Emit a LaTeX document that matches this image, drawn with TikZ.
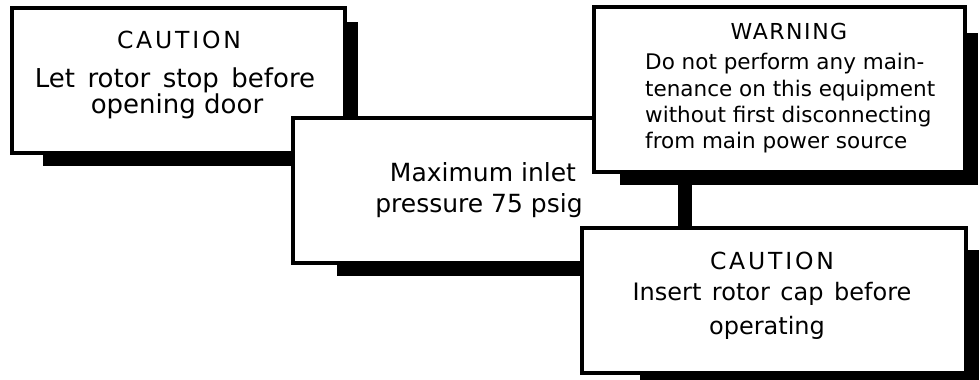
\documentclass[tikz,border=0pt]{standalone}
\usepackage{fontspec}
\setmainfont{DejaVu Sans}
\begin{document}
\begin{tikzpicture}[x=1pt,y=-1pt]
\tikzset{
  signbox/.style={draw=black, fill=white, line width=3.5pt, inner sep=0pt, outer sep=0pt, rectangle},
  shadowfill/.style={fill=black},
  headtxt/.style={anchor=base, inner sep=0pt, font=\fontsize{23.5}{28}\selectfont\addfontfeature{LetterSpace=12}},
  warntxt/.style={anchor=base, inner sep=0pt, font=\fontsize{22}{26}\selectfont\addfontfeature{LetterSpace=7}},
  bodyA/.style={anchor=base, inner sep=0pt, font=\fontsize{26}{30}\selectfont},
  bodyB/.style={anchor=base, inner sep=0pt, font=\fontsize{25}{30}\selectfont},
  bodyC/.style={anchor=base west, inner sep=0pt, font=\fontsize{21.5}{26}\selectfont},
  bodyD/.style={anchor=base, inner sep=0pt, font=\fontsize{24}{30}\selectfont},
  widegap/.style={execute at begin node={\spaceskip=#1\relax}},
}
\useasboundingbox (0,0) rectangle (980,380);
% sign 1
\fill[shadowfill] (43,22) rectangle (358,166);
\node[signbox, minimum width=333pt, minimum height=145pt] (b1) at (178.5,80.5) {};
\node[headtxt] (h1) at (179,48) {CAUTION};
\node[bodyA, widegap=12.5pt] (l11) at (175,87) {Let rotor stop before};
\node[bodyA] (l12) at (177,113) {opening door};
% sign 2
\fill[shadowfill] (337,132) rectangle (692,276);
\node[signbox, minimum width=387pt, minimum height=145pt] (b2) at (486.5,190.5) {};
\node[bodyB] (l21) at (483,181) {Maximum inlet};
\node[bodyB] (l22) at (479,212) {pressure 75 psig};
% sign 3
\fill[shadowfill] (620,33) rectangle (978,185);
\node[signbox, minimum width=371pt, minimum height=165pt] (b3) at (779.5,89.5) {};
\node[warntxt] (h3) at (789,39) {WARNING};
\node[bodyC] (l31) at (645,69) {Do not perform any main-};
\node[bodyC] (l32) at (645,96) {tenance on this equipment};
\node[bodyC] (l33) at (645,122) {without first disconnecting};
\node[bodyC] (l34) at (645,148) {from main power source};
% sign 4
\fill[shadowfill] (640,250) rectangle (979,388);
\node[signbox, minimum width=384pt, minimum height=145pt] (b4) at (774,300.5) {};
\node[headtxt] (h4) at (772,269) {CAUTION};
\node[bodyD, widegap=10.5pt] (l41) at (772,300) {Insert rotor cap before};
\node[bodyD] (l42) at (767,334) {operating};
\end{tikzpicture}
\end{document}
